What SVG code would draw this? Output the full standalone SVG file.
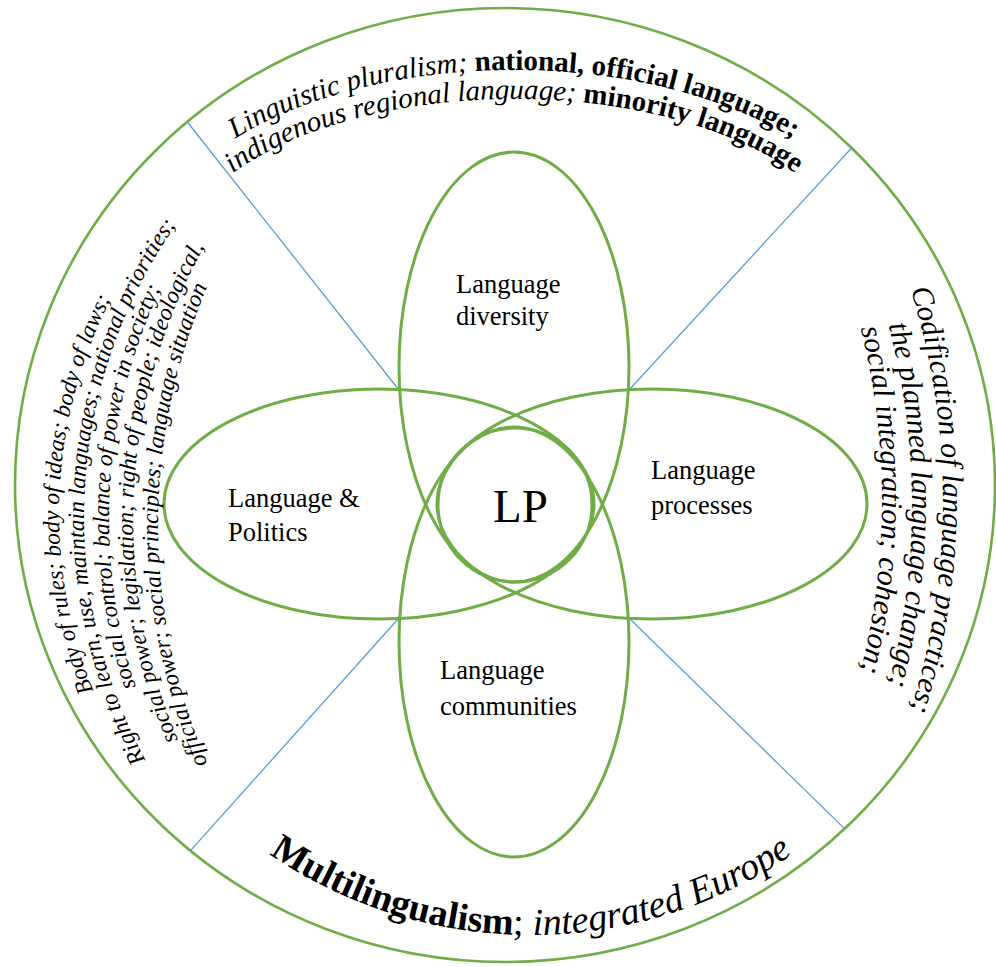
<svg xmlns="http://www.w3.org/2000/svg" width="996" height="967" viewBox="0 0 996 967">
<style>
.g{fill:none;stroke:#70AD47;stroke-width:3}
.outer{fill:none;stroke:#70AD47;stroke-width:2.6}
.conn{stroke:#5B9BD5;stroke-width:1.3;fill:none}
.lbl{font-family:"Liberation Serif","Times New Roman",serif;font-size:26.5px;fill:#000}
.lp{font-family:"Liberation Serif","Times New Roman",serif;font-size:47px;fill:#000}
.arc{font-family:"Liberation Serif","Times New Roman",serif;fill:#000}
.i{font-style:italic}
.b{font-weight:bold}
</style>
<defs>
<path id="top1" d="M 144 270 A 370 200 0 0 1 884 270"/>
<path id="top2" d="M 173 270 A 341 171 0 0 1 855 270"/>
<path id="r1" d="M 849.2 150 A 700 700 0 0 1 849.2 850"/>
<path id="r2" d="M 818.2 155 A 700 700 0 0 1 818.2 855"/>
<path id="r3" d="M 788.2 150 A 700 700 0 0 1 788.2 850"/>
<path id="l1" d="M 277.6 912.7 A 473 473 0 0 1 313.9 94.3"/>
<path id="l2" d="M 314.3 943.5 A 510 510 0 0 1 364.6 61.5"/>
<path id="l3" d="M 350.1 968.8 A 540 540 0 0 1 409.0 35.3"/>
<path id="l4" d="M 387.5 989.3 A 560 560 0 0 1 439.3 20.8"/>
<path id="l5" d="M 458 1044.6 A 600 600 0 0 1 458 5.4"/>
<path id="bot" d="M 95 629.7 A 464 464 0 0 0 967 629.7"/>
</defs>

<g id="outer-circle">
<ellipse class="outer" cx="505" cy="485" rx="490" ry="477"/>
</g>

<g id="connectors">
<line class="conn" x1="399" y1="390" x2="187.3" y2="122"/>
<line class="conn" x1="629" y1="390" x2="851.6" y2="148"/>
<line class="conn" x1="399" y1="618" x2="190.5" y2="850.6"/>
<line class="conn" x1="629" y1="618" x2="844.5" y2="828.6"/>
</g>

<g id="node-diversity">
<ellipse class="g" cx="514" cy="367" rx="115" ry="215"/>
<text class="lbl" x="456" y="293">Language</text>
<text class="lbl" x="456" y="325">diversity</text>
</g>

<g id="node-communities">
<ellipse class="g" cx="514" cy="642" rx="115" ry="215"/>
<text class="lbl" x="440" y="679">Language</text>
<text class="lbl" x="440" y="715">communities</text>
</g>

<g id="node-politics">
<ellipse class="g" cx="379" cy="504" rx="215" ry="115"/>
<text class="lbl" x="228" y="507">Language &amp;</text>
<text class="lbl" x="228" y="541">Politics</text>
</g>

<g id="node-processes">
<ellipse class="g" cx="652" cy="504" rx="215" ry="115"/>
<text class="lbl" x="651" y="479">Language</text>
<text class="lbl" x="651" y="514">processes</text>
</g>

<g id="node-lp">
<circle class="g" cx="515" cy="505" r="77" stroke-width="3.5"/>
<text class="lp" x="493" y="522">LP</text>
</g>

<g id="text-top">
<text class="arc" font-size="29" text-anchor="middle"><textPath href="#top1" startOffset="50%"><tspan class="i">Linguistic pluralism; </tspan><tspan class="b">national, official language;</tspan></textPath></text>
<text class="arc" font-size="29" text-anchor="middle"><textPath href="#top2" startOffset="50%"><tspan class="i">indigenous regional language; </tspan><tspan class="b">minority language</tspan></textPath></text>
</g>

<g id="text-right">
<text class="arc i" font-size="30" text-anchor="middle"><textPath href="#r1" startOffset="50%">Codification of language practices;</textPath></text>
<text class="arc i" font-size="30" text-anchor="middle"><textPath href="#r2" startOffset="50%">the planned language change;</textPath></text>
<text class="arc i" font-size="30" text-anchor="middle"><textPath href="#r3" startOffset="50%">social integration; cohesion;</textPath></text>
</g>

<g id="text-left">
<text class="arc i" font-size="23.5" text-anchor="middle"><textPath href="#l1" startOffset="50%">Body of rules; body of ideas; body of laws;</textPath></text>
<text class="arc i" font-size="23.5" text-anchor="middle"><textPath href="#l2" startOffset="50%">Right to learn, use, maintain languages; national priorities;</textPath></text>
<text class="arc i" font-size="23.5" text-anchor="middle"><textPath href="#l3" startOffset="50%">social control; balance of power in society;</textPath></text>
<text class="arc i" font-size="23.5" text-anchor="middle"><textPath href="#l4" startOffset="50%">social power; legislation; right of people; ideological,</textPath></text>
<text class="arc i" font-size="23.5" text-anchor="middle"><textPath href="#l5" startOffset="50%">official power; social principles; language situation</textPath></text>
</g>

<g id="text-bottom">
<text class="arc" font-size="38" text-anchor="middle"><textPath href="#bot" startOffset="50%"><tspan class="b">Multilingualism</tspan>; <tspan class="i">integrated Europe</tspan></textPath></text>
</g>
</svg>
